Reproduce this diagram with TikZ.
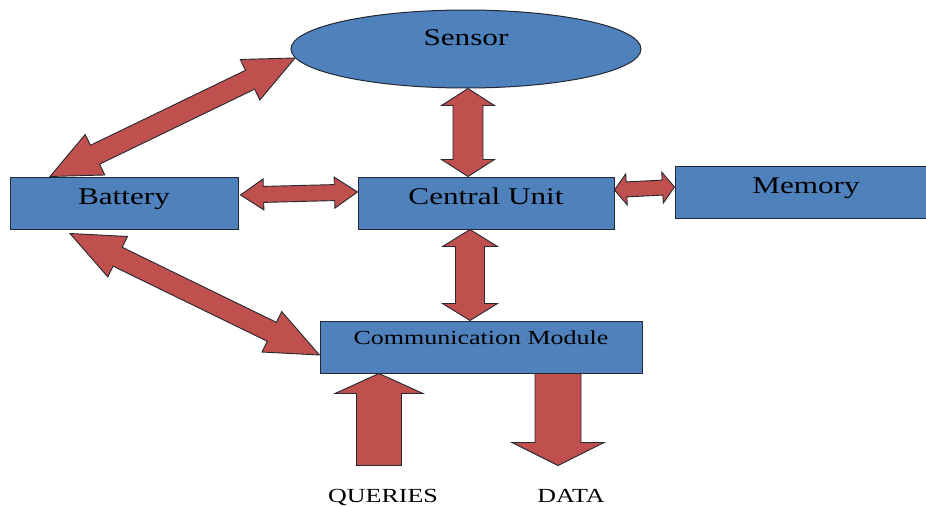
\documentclass[tikz,border=0pt]{standalone}
\usepackage{fontspec}
\setmainfont[FakeStretch=1.3]{Liberation Serif}
\usetikzlibrary{calc,shapes.geometric}

\definecolor{boxblue}{RGB}{79,129,189}
\definecolor{arrowred}{RGB}{192,80,77}
\definecolor{edgedark}{RGB}{35,40,50}

% double block arrow: from, to, shaft half width, head half width, head length
\newcommand{\dblarrow}[5]{%
  \draw[blockarrow] (#1)
    -- ($(#1)!#5!(#2)!#4!90:(#2)$) -- ($(#1)!#5!(#2)!#3!90:(#2)$)
    -- ($(#2)!#5!(#1)!#3!-90:(#1)$) -- ($(#2)!#5!(#1)!#4!-90:(#1)$)
    -- (#2)
    -- ($(#2)!#5!(#1)!#4!90:(#1)$) -- ($(#2)!#5!(#1)!#3!90:(#1)$)
    -- ($(#1)!#5!(#2)!#3!-90:(#2)$) -- ($(#1)!#5!(#2)!#4!-90:(#2)$)
    -- cycle;}

% single block arrow: tail, tip, shaft half width, head half width, head length
\newcommand{\sglarrow}[5]{%
  \draw[blockarrow] ($(#1)!#3!90:(#2)$)
    -- ($(#2)!#5!(#1)!#3!-90:(#1)$) -- ($(#2)!#5!(#1)!#4!-90:(#1)$)
    -- (#2)
    -- ($(#2)!#5!(#1)!#4!90:(#1)$) -- ($(#2)!#5!(#1)!#3!90:(#1)$)
    -- ($(#1)!#3!-90:(#2)$) -- cycle;}

\begin{document}
\begin{tikzpicture}[
            x=1pt, y=-1pt,
            unit/.style={rectangle, draw=edgedark, line width=1pt, fill=boxblue,
                minimum height=52pt, inner sep=0pt,
                font=\fontsize{24}{28}\selectfont},
            small/.style={font=\fontsize{20}{24}\selectfont},
            blockarrow/.style={draw=edgedark, line width=0.9pt, fill=arrowred, line join=miter},
        ]
        \useasboundingbox (0,0) rectangle (926,506);

        % Units
        \node[unit, ellipse, minimum width=350pt, minimum height=78pt,
              text height=14pt, text depth=21pt] (sen) at (466,49) {Sensor};
        \node[unit, minimum width=228pt, text height=14pt, text depth=12pt] (bat) at (124,203) {Battery};
        \node[unit, minimum width=256pt, text height=14pt, text depth=11pt] (cu) at (486,203) {Central Unit};
        \node[unit, minimum width=262pt, text height=14pt, text depth=11pt] (mem) at (806,192) {Memory};
        \node[unit, small, minimum width=322pt, text height=12pt, text depth=18pt] (cm) at (481,347) {Communication Module};

        % Outside labels
        \node[small, anchor=base] (qry) at (383,502) {QUERIES};
        \node[small, anchor=base] (dat) at (571,502) {DATA};

        % Arrow ends
        \coordinate (b1) at ([xshift=-74pt]bat.north);
        \coordinate (s1) at (sen.183);
        \coordinate (b2) at ([xshift=2pt, yshift=8pt]bat.east);
        \coordinate (c1) at ([yshift=11pt]cu.west);
        \coordinate (c2) at ([yshift=13pt]cu.east);
        \coordinate (m1) at ([yshift=5pt]mem.west);
        \coordinate (s2) at ([xshift=2pt]sen.south);
        \coordinate (c3) at ([xshift=-18pt]cu.north);
        \coordinate (c4) at ([xshift=-16pt]cu.south);
        \coordinate (k1) at ([xshift=-11pt]cm.north);
        \coordinate (b3) at ([xshift=-54pt, yshift=-4pt]bat.south);
        \coordinate (k2) at ([yshift=-8pt]cm.west);
        \coordinate (q1) at ([xshift=-102pt]cm.south);
        \coordinate (q0) at ($(q1)+(0,92)$);
        \coordinate (d0) at ([xshift=77pt]cm.south);
        \coordinate (d1) at ($(d0)+(0,92)$);

        % Links between units
        \dblarrow{b1}{s1}{10.5pt}{22.5pt}{50pt}
        \dblarrow{b2}{c1}{8pt}{15.5pt}{23pt}
        \dblarrow{c2}{m1}{7.5pt}{15.5pt}{12pt}
        \dblarrow{s2}{c3}{15pt}{26.5pt}{17pt}
        \dblarrow{c4}{k1}{14.5pt}{27.5pt}{17pt}
        \dblarrow{b3}{k2}{10.5pt}{22.5pt}{53pt}

        % Queries in, data out
        \sglarrow{q0}{q1}{22.5pt}{44pt}{20pt}
        \sglarrow{d0}{d1}{23pt}{46pt}{23pt}

    \end{tikzpicture}
\end{document}
